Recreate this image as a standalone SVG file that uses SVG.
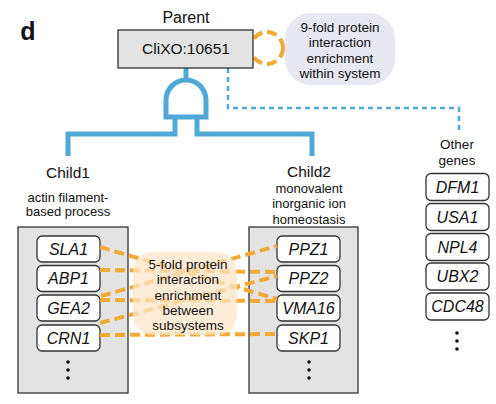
<svg xmlns="http://www.w3.org/2000/svg" width="496" height="404" viewBox="0 0 496 404">
<style>
text{font-family:"Liberation Sans",Arial,sans-serif;fill:#111;text-anchor:middle}
.gene rect{fill:#fff;stroke:#333;stroke-width:1.3}
.gene text{font-style:italic;font-size:16px}
.sys{fill:#e3e3e3;stroke:#333;stroke-width:1.3}
.lbl{font-size:13.5px}
.orange{fill:none;stroke:#f3a935;stroke-width:4;stroke-dasharray:10 5}
.blue{fill:none;stroke:#4fa8d5;stroke-width:5}
.dots circle{fill:#111}
</style>
<rect width="496" height="404" fill="#fff"/>
<text x="28" y="40" style="font-size:25px;font-weight:bold">d</text>

<g id="connectors">
  <circle cx="267" cy="48" r="16" class="orange" stroke-dasharray="9 6"/>
  <path d="M186,68 V80" class="blue"/>
  <path d="M175,117 V134 H68 V156 M197,117 V134 H312 V156" class="blue"/>
  <path d="M166,117 V100 A20,20 0 0 1 206,100 V117 Z" class="blue" stroke-width="4.5"/>
  <path d="M228,68 V108 H459 V131" fill="none" stroke="#4fa8d5" stroke-width="2.5" stroke-dasharray="5 4"/>
</g>

<g id="parent">
  <text x="186" y="22.5" style="font-size:16px">Parent</text>
  <rect x="118" y="30" width="135" height="38" fill="#e3e3e3" stroke="#333" stroke-width="1.3"/>
  <text x="186" y="54" style="font-size:15.5px">CliXO:10651</text>
</g>

<g id="within-note">
  <rect x="285" y="13" width="110" height="72" rx="26" fill="#e7e8f2"/>
  <text class="lbl" x="340" y="31.5">9-fold protein</text>
  <text class="lbl" x="340" y="47">interaction</text>
  <text class="lbl" x="340" y="62.5">enrichment</text>
  <text class="lbl" x="340" y="78">within system</text>
</g>

<g id="child1">
  <text x="68" y="177.5" style="font-size:15.5px">Child1</text>
  <text class="lbl" x="68" y="201.5" style="font-size:13px">actin filament-</text>
  <text class="lbl" x="68" y="215.5" style="font-size:13px">based process</text>
  <rect class="sys" x="18" y="227" width="110" height="166"/>
  <g class="gene"><rect x="37" y="236" width="63" height="26" rx="5"/><text x="68.5" y="254.5">SLA1</text></g>
  <g class="gene"><rect x="37" y="265.5" width="63" height="26" rx="5"/><text x="68.5" y="284">ABP1</text></g>
  <g class="gene"><rect x="37" y="295" width="63" height="26" rx="5"/><text x="68.5" y="313.5">GEA2</text></g>
  <g class="gene"><rect x="37" y="325" width="63" height="26" rx="5"/><text x="68.5" y="343.5">CRN1</text></g>
  <g class="dots"><circle cx="68" cy="362" r="1.8"/><circle cx="68" cy="370" r="1.8"/><circle cx="68" cy="378" r="1.8"/></g>
</g>

<g id="child2">
  <text x="309" y="176.5" style="font-size:15.5px">Child2</text>
  <text class="lbl" x="309" y="192.5" style="font-size:13px">monovalent</text>
  <text class="lbl" x="309" y="208" style="font-size:13px">inorganic ion</text>
  <text class="lbl" x="309" y="223.5" style="font-size:13px">homeostasis</text>
  <rect class="sys" x="249" y="227" width="109" height="166"/>
  <g class="gene"><rect x="277" y="236" width="63" height="26" rx="5"/><text x="308.5" y="254.5">PPZ1</text></g>
  <g class="gene"><rect x="277" y="265.5" width="63" height="26" rx="5"/><text x="308.5" y="284">PPZ2</text></g>
  <g class="gene"><rect x="277" y="295" width="63" height="26" rx="5"/><text x="308.5" y="313.5">VMA16</text></g>
  <g class="gene"><rect x="277" y="325" width="63" height="26" rx="5"/><text x="308.5" y="343.5">SKP1</text></g>
  <g class="dots"><circle cx="309" cy="362" r="1.8"/><circle cx="309" cy="370" r="1.8"/><circle cx="309" cy="378" r="1.8"/></g>
</g>

<g id="between-links">
  <path class="orange" d="M100,247 L277,299"/>
  <path class="orange" d="M100,270 L277,272"/>
  <path class="orange" d="M101,296 L277,246"/>
  <path class="orange" d="M100,300 L277,301"/>
  <path class="orange" d="M100,323 L277,276"/>
  <path class="orange" d="M100,335 L277,334"/>
</g>

<g id="between-note">
  <rect x="133" y="252" width="104" height="83" rx="20" fill="#fde6c8" fill-opacity="0.75"/>
  <text class="lbl" x="188" y="268.5">5-fold protein</text>
  <text class="lbl" x="188" y="284">interaction</text>
  <text class="lbl" x="188" y="299.5">enrichment</text>
  <text class="lbl" x="188" y="315">between</text>
  <text class="lbl" x="188" y="330">subsystems</text>
</g>

<g id="other">
  <text class="lbl" x="457" y="148.5">Other</text>
  <text class="lbl" x="457" y="164.5">genes</text>
  <g class="gene"><rect x="426" y="173.5" width="63" height="27" rx="5"/><text x="457.5" y="192.5">DFM1</text></g>
  <g class="gene"><rect x="426" y="203.5" width="63" height="27" rx="5"/><text x="457.5" y="222.5">USA1</text></g>
  <g class="gene"><rect x="426" y="233.5" width="63" height="27" rx="5"/><text x="457.5" y="252.5">NPL4</text></g>
  <g class="gene"><rect x="426" y="263" width="63" height="27" rx="5"/><text x="457.5" y="282">UBX2</text></g>
  <g class="gene"><rect x="426" y="293" width="63" height="27" rx="5"/><text x="457.5" y="312">CDC48</text></g>
  <g class="dots"><circle cx="457" cy="333" r="1.8"/><circle cx="457" cy="341" r="1.8"/><circle cx="457" cy="349" r="1.8"/></g>
</g>
</svg>
